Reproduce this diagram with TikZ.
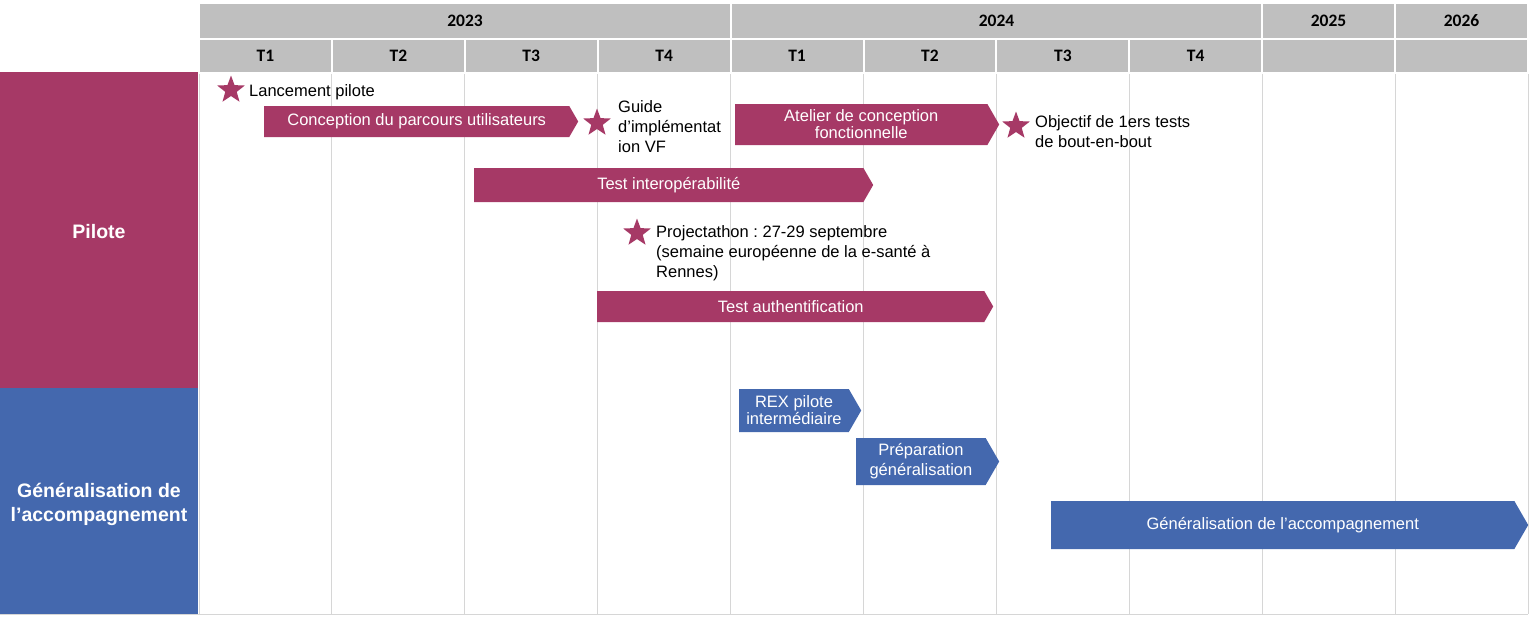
\documentclass[tikz,border=0pt]{standalone}
\usepackage{fontspec}
\setmainfont{Liberation Sans}
\newfontfamily\headfont{Carlito}
\usetikzlibrary{shapes.geometric,shapes.symbols,positioning}
\definecolor{PiloteRed}{RGB}{166,57,102}
\definecolor{GenBlue}{RGB}{68,104,174}
\definecolor{HeadGrey}{RGB}{191,191,191}
\definecolor{GridGrey}{RGB}{214,214,214}
\frenchspacing

\begin{document}
\begin{tikzpicture}[
  x=1pt, y=-1pt,
  font=\fontsize{16.5}{20}\selectfont,
  head/.style={fill=HeadGrey, draw=white, line width=2pt, inner sep=0pt,
    font=\headfont\bfseries\fontsize{17.5}{20}\selectfont},
  lane/.style={text=white, align=center, inner sep=0pt, minimum width=198pt,
    font=\bfseries\fontsize{19.5}{24}\selectfont},
  bar/.style={signal, signal to=east, signal pointer angle=120, text=white,
    align=center, inner sep=0pt, anchor=west,
    font=\fontsize{16.5}{17}\selectfont},
  pbar/.style={bar, fill=PiloteRed},
  gbar/.style={bar, fill=GenBlue},
  jalon/.style={star, star points=5, star point ratio=2.4, fill=PiloteRed,
    minimum size=29pt, inner sep=0pt},
  note/.style={align=left, anchor=west, inner sep=0pt},
  colline/.style={draw=GridGrey, line width=1pt},
]
\useasboundingbox (0,0) rectangle (1536,622);

% lanes
\node[lane, fill=PiloteRed, minimum height=316pt] (pilote) at (99,230) {};
\node[lane] (piloteLbl) at (99,232) {Pilote};
\node[lane, fill=GenBlue, minimum height=226pt] (gen) at (99,501) {};
\node[lane] (genLbl) at (99,504) {Généralisation de\\l’accompagnement};

% grid
\foreach \i in {0,...,10}
  \draw[colline] (199+132.9*\i,73) -- (199+132.9*\i,614);
\draw[colline] (0,614) -- (1528,614);

% header
\node[head, minimum width=532pt, minimum height=36pt] (y2023) at (465,21) {2023};
\node[head, minimum width=531pt, minimum height=36pt] (y2024) at (996.5,21) {2024};
\node[head, minimum width=133pt, minimum height=36pt] (y2025) at (1328.5,21) {2025};
\node[head, minimum width=133pt, minimum height=36pt] (y2026) at (1461.5,21) {2026};
\foreach \i/\t in {1/T1,2/T2,3/T3,4/T4,5/T1,6/T2,7/T3,8/T4,9/,10/}
  \node[head, minimum width=132.9pt, minimum height=34pt] (q\i)
    at (199+132.9*\i-66.45,56) {\t};

% pilote
\node[jalon] (j1) at (231,90) {};
\node[note] (lanc) at (249,92) {Lancement pilote};
\node[pbar, minimum width=314pt, minimum height=31pt] (conc) at (264,121.5)
  {Conception du parcours utilisateurs};
\node[jalon] (j2) at (597,123) {};
\node[note] (guide) at (618,127) {Guide\\d’implémentat\\ion VF};
\node[pbar, minimum width=264pt, minimum height=41pt] (atel) at (735,124.5)
  {Atelier de conception\\fonctionnelle};
\node[jalon] (j3) at (1016,126) {};
\node[note] (obj) at (1035,132) {Objectif de 1ers tests\\de bout-en-bout};
\node[pbar, minimum width=399pt, minimum height=34pt] (interop) at (474,185)
  {Test interopérabilité};
\node[jalon] (j4) at (637,233) {};
\node[note] (proj) at (656,253)
  {Projectathon : 27-29 septembre\\(semaine européenne de la e-santé à\\Rennes)};
\node[pbar, minimum width=396pt, minimum height=31pt] (auth) at (597,306.5)
  {Test authentification};

% generalisation
\node[gbar, minimum width=122pt, minimum height=43pt] (rex) at (739,410.5)
  {REX pilote\\intermédiaire};
\node[gbar, minimum width=143pt, minimum height=47pt,
  font=\fontsize{16.5}{20}\selectfont] (prep) at (856,461.5)
  {Préparation\\généralisation};
\node[gbar, minimum width=477pt, minimum height=48pt] (genacc) at (1051,525)
  {Généralisation de l’accompagnement};
\end{tikzpicture}
\end{document}
